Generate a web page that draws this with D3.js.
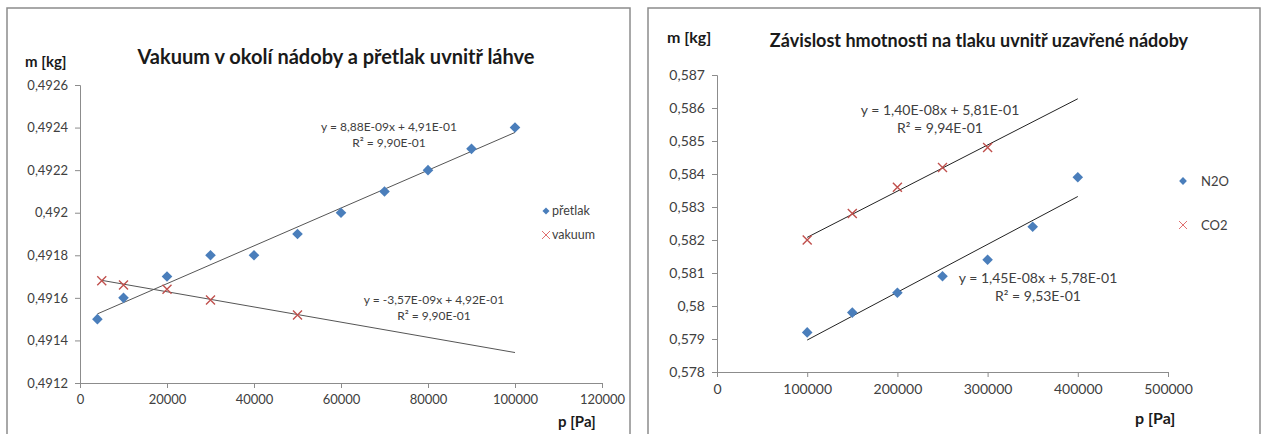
<!DOCTYPE html>
<html>
<head>
<meta charset="utf-8">
<script src="https://cdn.jsdelivr.net/npm/d3@7"></script>
<style>
  body { margin: 0; background: #fff; }
  svg { display: block; font-family: Lato, "Open Sans", sans-serif; }
</style>
</head>
<body>
<svg id="chart" width="1264" height="434"></svg>
<script>
// levý graf - přetlak / vakuum
const pretlakX = [4000, 10000, 20000, 30000, 40000, 50000, 60000, 70000, 80000, 90000, 100000];
const pretlakY = [0.4915, 0.4916, 0.4917, 0.4918, 0.4918, 0.4919, 0.4920, 0.4921, 0.4922, 0.4923, 0.4924];
const vakuumX = [5000, 10000, 20000, 30000, 50000];
const vakuumY = [0.49168, 0.49166, 0.49164, 0.49159, 0.49152];
const leftXTicks = [0, 20000, 40000, 60000, 80000, 100000, 120000];
const leftYTicks = [0.4912, 0.4914, 0.4916, 0.4918, 0.492, 0.4922, 0.4924, 0.4926];

// pravý graf - N2O / CO2
const n2oX = [100000, 150000, 200000, 250000, 300000, 350000, 400000];
const n2oY = [0.5792, 0.5798, 0.5804, 0.5809, 0.5814, 0.5824, 0.5839];
const co2X = [100000, 150000, 200000, 250000, 300000];
const co2Y = [0.5820, 0.5828, 0.5836, 0.5842, 0.5848];
const rightXTicks = [0, 100000, 200000, 300000, 400000, 500000];
const rightYTicks = [0.578, 0.579, 0.58, 0.581, 0.582, 0.583, 0.584, 0.585, 0.586, 0.587];

const blue = "#4a7ebb";
const red = "#c0504d";
const textColor = "#404040";
const svg = d3.select("#chart");

// lineární regrese pro spojnici trendu
function fit(xs, ys) {
  const n = xs.length;
  const mx = d3.mean(xs), my = d3.mean(ys);
  let sxy = 0, sxx = 0;
  for (let i = 0; i < n; i++) {
    sxy += (xs[i] - mx) * (ys[i] - my);
    sxx += (xs[i] - mx) * (xs[i] - mx);
  }
  const k = sxy / sxx;
  return { k: k, q: my - k * mx };
}

const comma = v => String(+v.toPrecision(6)).replace(".", ",");

function frame(x, y, w, h) {
  svg.append("rect")
    .attr("x", x).attr("y", y).attr("width", w).attr("height", h)
    .attr("fill", "none").attr("stroke", "#8c8c8c").attr("stroke-width", 1.5);
}

function axes(g, x, y, xTicks, yTicks, fontSize) {
  const xa = g.append("g")
    .attr("transform", "translate(0," + y.range()[0] + ")")
    .call(d3.axisBottom(x).tickValues(xTicks).tickSize(5).tickPadding(7).tickFormat(d => d));
  const ya = g.append("g")
    .attr("transform", "translate(" + x.range()[0] + ",0)")
    .call(d3.axisLeft(y).tickValues(yTicks).tickSize(5).tickPadding(7).tickFormat(comma));
  [xa, ya].forEach(a => {
    a.select(".domain").attr("stroke", "#8c8c8c");
    a.selectAll(".tick line").attr("stroke", "#8c8c8c");
    a.selectAll(".tick text").attr("fill", textColor)
      .attr("font-size", fontSize).attr("font-family", "Lato, sans-serif");
  });
}

function diamond(g, cx, cy, s) {
  g.append("path")
    .attr("d", d3.symbol(d3.symbolSquare, s * s)())
    .attr("transform", "translate(" + cx + "," + cy + ") rotate(45)")
    .attr("fill", blue);
}

function cross(g, cx, cy, r, color, w) {
  g.append("path")
    .attr("d", `M${cx - r},${cy - r}L${cx + r},${cy + r}M${cx - r},${cy + r}L${cx + r},${cy - r}`)
    .attr("stroke", color).attr("stroke-width", w).attr("fill", "none");
}

function trend(g, x, y, xs, ys, x0, x1, color) {
  const f = fit(xs, ys);
  g.append("line")
    .attr("x1", x(x0)).attr("y1", y(f.k * x0 + f.q))
    .attr("x2", x(x1)).attr("y2", y(f.k * x1 + f.q))
    .attr("stroke", color).attr("stroke-width", 1);
}

function label(g, txt, x, y, size, weight, anchor) {
  g.append("text").text(txt)
    .attr("x", x).attr("y", y)
    .attr("font-size", size).attr("font-weight", weight || "normal")
    .attr("text-anchor", anchor || "middle")
    .attr("fill", weight === "bold" ? "#1a1a1a" : textColor);
}

function equation(g, txt, r2, cx, cy, size) {
  label(g, txt, cx, cy, size);
  label(g, "R² = " + r2, cx, cy + size + 4, size);
}

// ---------- levý graf ----------
frame(7, 8, 623, 440);
const gL = svg.append("g");
const xL = d3.scaleLinear().domain([0, 120000]).range([80, 602]);
const yL = d3.scaleLinear().domain([0.4912, 0.4926]).range([383, 85]);
axes(gL, xL, yL, leftXTicks, leftYTicks, 13);

trend(gL, xL, yL, pretlakX, pretlakY, 4000, 100000, "#555");
trend(gL, xL, yL, vakuumX, vakuumY, 5000, 100000, "#555");
pretlakX.forEach((v, i) => diamond(gL, xL(v), yL(pretlakY[i]), 7.5));
vakuumX.forEach((v, i) => cross(gL, xL(v), yL(vakuumY[i]), 4.5, red, 1.4));

label(gL, "Vakuum v okolí nádoby a přetlak uvnitř láhve", 336, 64, 20, "bold");
label(gL, "m [kg]", 25, 67, 15, "bold", "start");
label(gL, "p [Pa]", 558, 427, 15, "bold", "start");
equation(gL, "y = 8,88E-09x + 4,91E-01", "9,90E-01", 389, 131, 12);
equation(gL, "y = -3,57E-09x + 4,92E-01", "9,90E-01", 434, 304, 12);

diamond(gL, 546, 211, 5);
label(gL, "přetlak", 552, 215, 12.5, "normal", "start");
cross(gL, 546, 235, 4, "#e07070", 1);
label(gL, "vakuum", 552, 239, 12.5, "normal", "start");

// ---------- pravý graf ----------
frame(648, 8, 612, 440);
const gR = svg.append("g");
const xR = d3.scaleLinear().domain([0, 500000]).range([717, 1168]);
const yR = d3.scaleLinear().domain([0.578, 0.587]).range([372, 75]);
axes(gR, xR, yR, rightXTicks, rightYTicks, 14);

trend(gR, xR, yR, n2oX, n2oY, 100000, 400000, "#222");
trend(gR, xR, yR, co2X, co2Y, 100000, 400000, "#222");
n2oX.forEach((v, i) => diamond(gR, xR(v), yR(n2oY[i]), 7.5));
co2X.forEach((v, i) => cross(gR, xR(v), yR(co2Y[i]), 4.5, red, 1.4));

label(gR, "Závislost hmotnosti na tlaku uvnitř uzavřené nádoby", 979, 47, 18, "bold");
label(gR, "m [kg]", 667, 43, 16, "bold", "start");
label(gR, "p [Pa]", 1135, 424, 16, "bold", "start");
equation(gR, "y = 1,40E-08x + 5,81E-01", "9,94E-01", 940, 115, 14);
equation(gR, "y = 1,45E-08x + 5,78E-01", "9,53E-01", 1038, 283, 14);

diamond(gR, 1183, 181, 5.5);
label(gR, "N2O", 1201, 186, 13, "normal", "start");
cross(gR, 1183, 225, 4, "#e07070", 1);
label(gR, "CO2", 1201, 230, 13, "normal", "start");
</script>
</body>
</html>
